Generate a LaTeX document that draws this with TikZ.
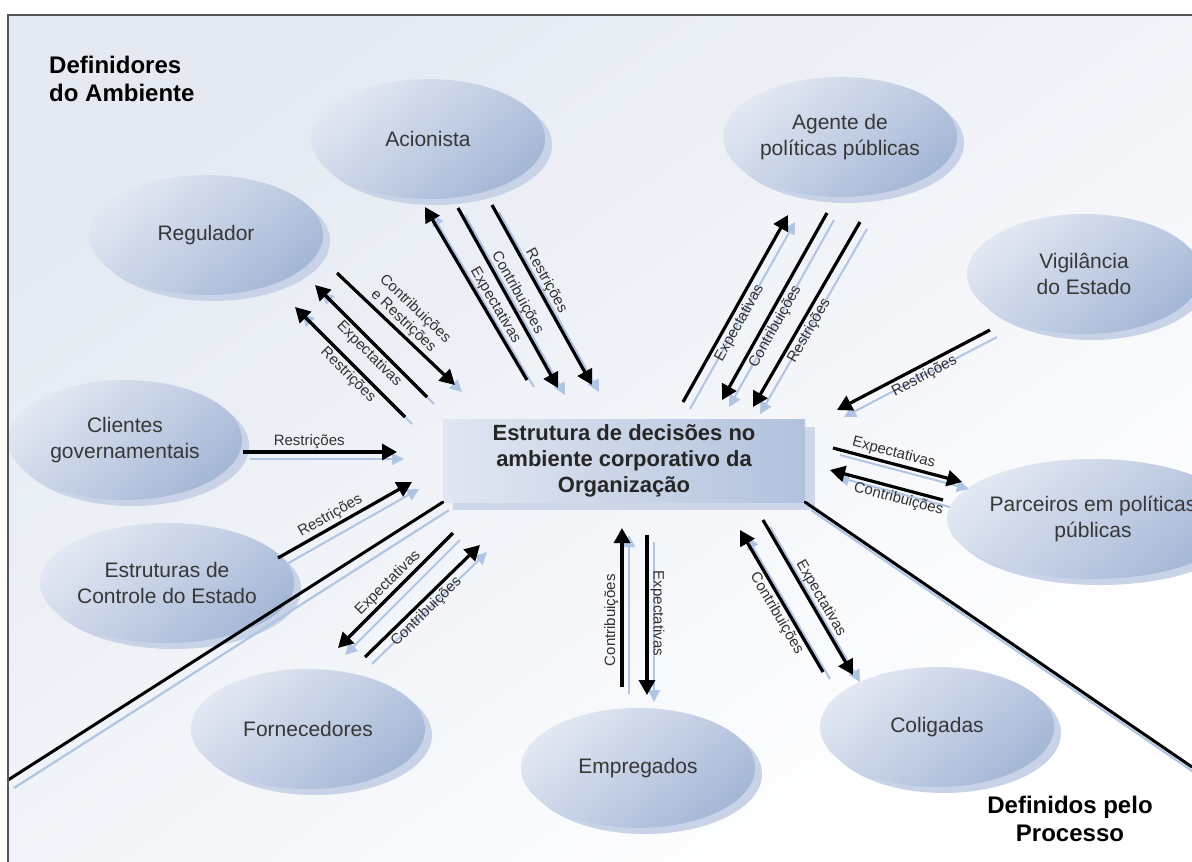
\documentclass[tikz,border=0pt]{standalone}
\usepackage{fontspec}
\setmainfont{Liberation Sans}
\usetikzlibrary{shapes.geometric,arrows.meta,shadows}

\definecolor{bghi}{RGB}{228,233,242}
\definecolor{ellhi}{RGB}{226,232,243}
\definecolor{elllo}{RGB}{165,183,214}
\definecolor{ellshadow}{RGB}{200,211,232}
\definecolor{boxhi}{RGB}{225,231,242}
\definecolor{boxlo}{RGB}{178,194,221}
\definecolor{boxshadow}{RGB}{205,215,233}
\definecolor{ghost}{RGB}{176,196,228}
\definecolor{inkgray}{RGB}{55,55,55}
\definecolor{labelgray}{RGB}{50,50,50}
\definecolor{framegray}{RGB}{85,85,85}

\tikzset{
  party/.style={ellipse, minimum width=234, minimum height=120, inner sep=0pt,
    align=center, text=inkgray, font=\fontsize{21}{26}\selectfont,
    top color=ellhi, bottom color=elllo, shading angle=40,
    drop shadow={shadow xshift=7pt, shadow yshift=-6pt, fill=ellshadow, opacity=1}},
  hub/.style={rectangle, minimum width=362, minimum height=83, inner sep=0pt,
    align=center, text=black!85, font=\fontsize{22}{26}\selectfont\bfseries,
    left color=boxhi, right color=boxlo,
    drop shadow={shadow xshift=10pt, shadow yshift=-8pt, fill=boxshadow, opacity=1}},
  flowline/.style={line width=3.2pt, -{Triangle[length=15pt,width=16pt]}},
  ghostline/.style={line width=2pt, ghost, -{Triangle[length=12pt,width=12pt]}},
  lbl/.style={font=\fontsize{15}{17}\selectfont, text=labelgray, inner sep=2pt, align=center},
  region/.style={font=\fontsize{24}{28}\selectfont\bfseries, inner sep=0pt},
  divider/.style={line width=3pt, line cap=round},
  dividerghost/.style={line width=2.2pt, ghost},
}

% one exchange: a black arrow, its pale offset copy and its label
\newcommand\exchange[5]{%
  \coordinate (#1-a) at (#2);
  \coordinate (#1-b) at (#3);
  \draw[ghostline] ([shift={(7,7)}]#1-a) -- ([shift={(7,7)}]#1-b);
  \draw[flowline] (#1-a) -- (#1-b) node[lbl, sloped, #4] (#1-l) {#5};
}

\begin{document}
\begin{tikzpicture}[x=1pt, y=-1pt]
\useasboundingbox (0,0) rectangle (1192,862);
\fill[white] (0,0) rectangle (1192,862);
\shade[top color=bghi, bottom color=white, shading angle=35] (8,15) rectangle (1192,862);

% central decision structure
\node[hub] (org) at (624,460.5) {Estrutura de decisões no\\ambiente corporativo da\\Organização};

% stakeholders
\node[party] (acionista) at (428,139) {Acionista};
\node[party] (regulador) at (206,235) {Regulador};
\node[party] (agente) at (840,137) {Agente de\\políticas públicas};
\node[party] (vigilancia) at (1084,274) {Vigilância\\do Estado};
\node[party] (clientes) at (125,440) {Clientes\\governamentais};
\node[party] (controle) at (167,583) {Estruturas de\\Controle do Estado};
\node[party] (parceiros) at (1093,519) {Parceiros em políticas\\públicas};
\node[party] (fornecedores) at (308,729) {Fornecedores};
\node[party] (empregados) at (638,768) {Empregados};
\node[party] (coligadas) at (937,727) {Coligadas};

% dividing lines between the two groups of stakeholders
\coordinate (dl-end) at (8,780);
\coordinate (dr-end) at (1192,767);
\draw[dividerghost] ([shift={(6,8)}]org.south west) -- ([shift={(6,8)}]dl-end);
\draw[dividerghost] ([shift={(6,8)}]org.south east) -- ([shift={(6,8)}]dr-end);
\draw[divider] (org.south west) -- (dl-end);
\draw[divider] (org.south east) -- (dr-end);

% flows with the regulator
\exchange{rg1}{337,273}{455,385}{above, pos=.5}{Contribuições\\e Restrições}
\exchange{rg2}{427,397}{315,285}{below, pos=.45}{Expectativas}
\exchange{rg3}{405,417}{295,307}{below, pos=.45}{Restrições}

% flows with the shareholder
\exchange{ac1}{527,380}{425,207}{above, pos=.4}{Expectativas}
\exchange{ac2}{458,208}{558,388}{above, pos=.5}{Contribuições}
\exchange{ac3}{492,205}{592,385}{above, pos=.45}{Restrições}

% flows with the public policy agent
\exchange{ag1}{683,402}{788,215}{below, pos=.45}{Expectativas}
\exchange{ag2}{827,213}{722,400}{below, pos=.58}{Contribuições}
\exchange{ag3}{860,222}{753,407}{below, pos=.56}{Restrições}

% state surveillance
\exchange{vg}{990,330}{837,410}{below, pos=.46}{Restrições}

% government clients and state control
\exchange{cl}{243,452}{397,452}{above, pos=.43}{Restrições}
\exchange{es}{278,558}{412,482}{above, pos=.43}{Restrições}

% suppliers
\exchange{fo1}{453,533}{338,648}{above, pos=.5}{Expectativas}
\exchange{fo2}{365,657}{480,545}{below, pos=.47}{Contribuições}

% employees
\exchange{em1}{622,687}{622,528}{above, pos=.42}{Contribuições}
\exchange{em2}{647,535}{647,695}{above, pos=.49}{Expectativas}

% affiliates
\exchange{co1}{823,672}{740,530}{below, pos=.45}{Contribuições}
\exchange{co2}{763,520}{853,675}{above, pos=.54}{Expectativas}

% public policy partners
\exchange{pa1}{833,448}{962,482}{above, pos=.45}{Expectativas}
\exchange{pa2}{943,500}{830,470}{below, pos=.37}{Contribuições}

% group captions
\node[region, align=left, anchor=west] (envdef) at (49,79) {Definidores\\do Ambiente};
\node[region, align=center] (procdef) at (1070,819) {Definidos pelo\\Processo};

% frame
\draw[framegray, line width=1.6pt] (8,862) -- (8,15) -- (1192,15);
\end{tikzpicture}
\end{document}
